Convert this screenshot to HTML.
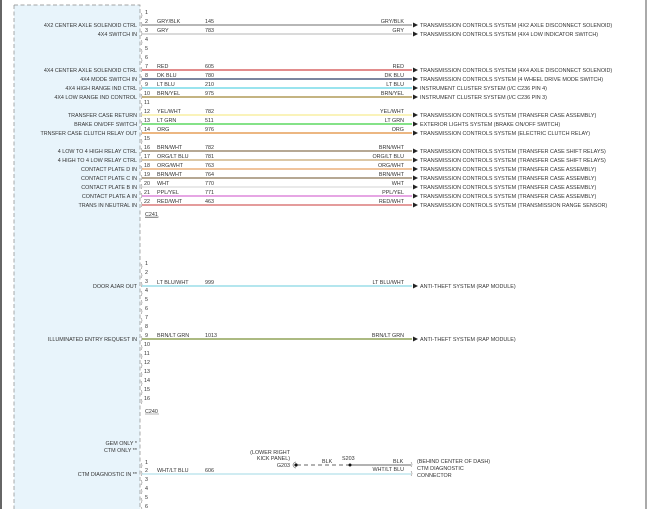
<!DOCTYPE html>
<html><head><meta charset="utf-8"><style>
html,body{margin:0;padding:0;background:#fff;width:650px;height:509px;overflow:hidden}
svg{display:block}
text{font-family:"Liberation Sans",sans-serif;font-size:5.4px;fill:#333}
.r{text-anchor:end}
</style></head><body>
<svg width="650" height="509" viewBox="0 0 650 509">
<rect x="0" y="0" width="2" height="509" fill="#666"/>
<rect x="645" y="0" width="2" height="509" fill="#aaa"/>
<rect x="14" y="5" width="126" height="504" fill="#e8f4fb"/>
<path d="M14 5H140V509" fill="none" stroke="#888" stroke-width="0.7" stroke-dasharray="4,2.5"/>
<path d="M14 5V509" fill="none" stroke="#888" stroke-width="0.7" stroke-dasharray="4,2.5"/>

<!-- C241 pins -->
<g>
<text x="145" y="14">1</text><text x="145" y="23">2</text><text x="145" y="32">3</text><text x="145" y="41">4</text>
<text x="145" y="50">5</text><text x="145" y="59">6</text><text x="145" y="68">7</text><text x="145" y="77">8</text>
<text x="145" y="86">9</text><text x="144" y="95">10</text><text x="144" y="104">11</text><text x="144" y="113">12</text>
<text x="144" y="122">13</text><text x="144" y="131">14</text><text x="144" y="140">15</text><text x="144" y="149">16</text>
<text x="144" y="158">17</text><text x="144" y="167">18</text><text x="144" y="176">19</text><text x="144" y="185">20</text>
<text x="144" y="194">21</text><text x="144" y="203">22</text>
</g>
<g fill="none" stroke="#666" stroke-width="0.5">
<path d="M141 13q2 2.5 0 5M141 22q2 2.5 0 5M141 31q2 2.5 0 5M141 40q2 2.5 0 5M141 49q2 2.5 0 5M141 58q2 2.5 0 5M141 67q2 2.5 0 5M141 76q2 2.5 0 5M141 85q2 2.5 0 5M141 94q2 2.5 0 5M141 103q2 2.5 0 5M141 112q2 2.5 0 5M141 121q2 2.5 0 5M141 130q2 2.5 0 5M141 139q2 2.5 0 5M141 148q2 2.5 0 5M141 157q2 2.5 0 5M141 166q2 2.5 0 5M141 175q2 2.5 0 5M141 184q2 2.5 0 5M141 193q2 2.5 0 5M141 202q2 2.5 0 5"/>
</g>
<g stroke-width="1.3">
<line x1="142" y1="25" x2="412" y2="25" stroke="#8c8c8c"/>
<line x1="142" y1="34" x2="412" y2="34" stroke="#c4c4c4"/>
<line x1="142" y1="70" x2="412" y2="70" stroke="#d04848"/>
<line x1="142" y1="79" x2="412" y2="79" stroke="#2e3d66"/>
<line x1="142" y1="88" x2="412" y2="88" stroke="#5ed4e4"/>
<line x1="142" y1="97" x2="412" y2="97" stroke="#a08838"/>
<line x1="142" y1="115" x2="412" y2="115" stroke="#f8ec90"/>
<line x1="142" y1="124" x2="412" y2="124" stroke="#3cd040"/>
<line x1="142" y1="133" x2="412" y2="133" stroke="#e08c38"/>
<line x1="142" y1="151" x2="412" y2="151" stroke="#8a7454"/>
<line x1="142" y1="160" x2="412" y2="160" stroke="#c8a870"/>
<line x1="142" y1="169" x2="412" y2="169" stroke="#e8a060"/>
<line x1="142" y1="178" x2="412" y2="178" stroke="#8a7454"/>
<line x1="142" y1="187" x2="412" y2="187" stroke="#dcdcdc"/>
<line x1="142" y1="196" x2="412" y2="196" stroke="#d870d4"/>
<line x1="142" y1="205" x2="412" y2="205" stroke="#d46060"/>
</g>
<g fill="#222">
<path d="M413 22.5l5 2.5-5 2.5z"/><path d="M413 31.5l5 2.5-5 2.5z"/><path d="M413 67.5l5 2.5-5 2.5z"/><path d="M413 76.5l5 2.5-5 2.5z"/>
<path d="M413 85.5l5 2.5-5 2.5z"/><path d="M413 94.5l5 2.5-5 2.5z"/><path d="M413 112.5l5 2.5-5 2.5z"/><path d="M413 121.5l5 2.5-5 2.5z"/>
<path d="M413 130.5l5 2.5-5 2.5z"/><path d="M413 148.5l5 2.5-5 2.5z"/><path d="M413 157.5l5 2.5-5 2.5z"/><path d="M413 166.5l5 2.5-5 2.5z"/>
<path d="M413 175.5l5 2.5-5 2.5z"/><path d="M413 184.5l5 2.5-5 2.5z"/><path d="M413 193.5l5 2.5-5 2.5z"/><path d="M413 202.5l5 2.5-5 2.5z"/>
<path d="M413 283.5l5 2.5-5 2.5z"/><path d="M413 336.5l5 2.5-5 2.5z"/>
</g>
<!-- wire colors & numbers -->
<text x="157" y="23">GRY/BLK</text><text x="205" y="23">145</text><text class="r" x="404" y="23">GRY/BLK</text>
<text x="157" y="32">GRY</text><text x="205" y="32">783</text><text class="r" x="404" y="32">GRY</text>
<text x="157" y="68">RED</text><text x="205" y="68">605</text><text class="r" x="404" y="68">RED</text>
<text x="157" y="77">DK BLU</text><text x="205" y="77">780</text><text class="r" x="404" y="77">DK BLU</text>
<text x="157" y="86">LT BLU</text><text x="205" y="86">210</text><text class="r" x="404" y="86">LT BLU</text>
<text x="157" y="95">BRN/YEL</text><text x="205" y="95">975</text><text class="r" x="404" y="95">BRN/YEL</text>
<text x="157" y="113">YEL/WHT</text><text x="205" y="113">782</text><text class="r" x="404" y="113">YEL/WHT</text>
<text x="157" y="122">LT GRN</text><text x="205" y="122">511</text><text class="r" x="404" y="122">LT GRN</text>
<text x="157" y="131">ORG</text><text x="205" y="131">976</text><text class="r" x="404" y="131">ORG</text>
<text x="157" y="149">BRN/WHT</text><text x="205" y="149">782</text><text class="r" x="404" y="149">BRN/WHT</text>
<text x="157" y="158">ORG/LT BLU</text><text x="205" y="158">781</text><text class="r" x="404" y="158">ORG/LT BLU</text>
<text x="157" y="167">ORG/WHT</text><text x="205" y="167">763</text><text class="r" x="404" y="167">ORG/WHT</text>
<text x="157" y="176">BRN/WHT</text><text x="205" y="176">764</text><text class="r" x="404" y="176">BRN/WHT</text>
<text x="157" y="185">WHT</text><text x="205" y="185">770</text><text class="r" x="404" y="185">WHT</text>
<text x="157" y="194">PPL/YEL</text><text x="205" y="194">771</text><text class="r" x="404" y="194">PPL/YEL</text>
<text x="157" y="203">RED/WHT</text><text x="205" y="203">463</text><text class="r" x="404" y="203">RED/WHT</text>
<!-- left labels -->
<text class="r" x="137" y="27">4X2 CENTER AXLE SOLENOID CTRL</text>
<text class="r" x="137" y="36">4X4 SWITCH IN</text>
<text class="r" x="137" y="72">4X4 CENTER AXLE SOLENOID CTRL</text>
<text class="r" x="137" y="81">4X4 MODE SWITCH IN</text>
<text class="r" x="137" y="90">4X4 HIGH RANGE IND CTRL</text>
<text class="r" x="137" y="99">4X4 LOW RANGE IND CONTROL</text>
<text class="r" x="137" y="117">TRANSFER CASE RETURN</text>
<text class="r" x="137" y="126">BRAKE ON/OFF SWITCH</text>
<text class="r" x="137" y="135">TRNSFER CASE CLUTCH RELAY OUT</text>
<text class="r" x="137" y="153">4 LOW TO 4 HIGH RELAY CTRL</text>
<text class="r" x="137" y="162">4 HIGH TO 4 LOW RELAY CTRL</text>
<text class="r" x="137" y="171">CONTACT PLATE D IN</text>
<text class="r" x="137" y="180">CONTACT PLATE C IN</text>
<text class="r" x="137" y="189">CONTACT PLATE B IN</text>
<text class="r" x="137" y="198">CONTACT PLATE A IN</text>
<text class="r" x="137" y="207">TRANS IN NEUTRAL IN</text>
<!-- destinations -->
<text x="420" y="27">TRANSMISSION CONTROLS SYSTEM (4X2 AXLE DISCONNECT SOLENOID)</text>
<text x="420" y="36">TRANSMISSION CONTROLS SYSTEM (4X4 LOW INDICATOR SWITCH)</text>
<text x="420" y="72">TRANSMISSION CONTROLS SYSTEM (4X4 AXLE DISCONNECT SOLENOID)</text>
<text x="420" y="81">TRANSMISSION CONTROLS SYSTEM (4 WHEEL DRIVE MODE SWITCH)</text>
<text x="420" y="90">INSTRUMENT CLUSTER SYSTEM (I/C C236 PIN 4)</text>
<text x="420" y="99">INSTRUMENT CLUSTER SYSTEM (I/C C236 PIN 3)</text>
<text x="420" y="117">TRANSMISSION CONTROLS SYSTEM (TRANSFER CASE ASSEMBLY)</text>
<text x="420" y="126">EXTERIOR LIGHTS SYSTEM (BRAKE ON/OFF SWITCH)</text>
<text x="420" y="135">TRANSMISSION CONTROLS SYSTEM (ELECTRIC CLUTCH RELAY)</text>
<text x="420" y="153">TRANSMISSION CONTROLS SYSTEM (TRANSFER CASE SHIFT RELAYS)</text>
<text x="420" y="162">TRANSMISSION CONTROLS SYSTEM (TRANSFER CASE SHIFT RELAYS)</text>
<text x="420" y="171">TRANSMISSION CONTROLS SYSTEM (TRANSFER CASE ASSEMBLY)</text>
<text x="420" y="180">TRANSMISSION CONTROLS SYSTEM (TRANSFER CASE ASSEMBLY)</text>
<text x="420" y="189">TRANSMISSION CONTROLS SYSTEM (TRANSFER CASE ASSEMBLY)</text>
<text x="420" y="198">TRANSMISSION CONTROLS SYSTEM (TRANSFER CASE ASSEMBLY)</text>
<text x="420" y="207">TRANSMISSION CONTROLS SYSTEM (TRANSMISSION RANGE SENSOR)</text>
<text x="145" y="216" text-decoration="underline">C241</text>
<line x1="145" y1="217" x2="159" y2="217" stroke="#444" stroke-width="0.4"/>

<!-- C240 -->
<g>
<text x="145" y="265">1</text><text x="145" y="274">2</text><text x="145" y="283">3</text><text x="145" y="292">4</text>
<text x="145" y="301">5</text><text x="145" y="310">6</text><text x="145" y="319">7</text><text x="145" y="328">8</text>
<text x="145" y="337">9</text><text x="144" y="346">10</text><text x="144" y="355">11</text><text x="144" y="364">12</text>
<text x="144" y="373">13</text><text x="144" y="382">14</text><text x="144" y="391">15</text><text x="144" y="400">16</text>
</g>
<path fill="none" stroke="#666" stroke-width="0.5" d="M141 264q2 2.5 0 5M141 273q2 2.5 0 5M141 282q2 2.5 0 5M141 291q2 2.5 0 5M141 300q2 2.5 0 5M141 309q2 2.5 0 5M141 318q2 2.5 0 5M141 327q2 2.5 0 5M141 336q2 2.5 0 5M141 345q2 2.5 0 5M141 354q2 2.5 0 5M141 363q2 2.5 0 5M141 372q2 2.5 0 5M141 381q2 2.5 0 5M141 390q2 2.5 0 5M141 399q2 2.5 0 5"/>
<line x1="142" y1="286" x2="412" y2="286" stroke="#88d8e4" stroke-width="1.3"/>
<line x1="142" y1="339" x2="412" y2="339" stroke="#7a9038" stroke-width="1.3"/>
<text x="157" y="284">LT BLU/WHT</text><text x="205" y="284">999</text><text class="r" x="404" y="284">LT BLU/WHT</text>
<text x="157" y="337">BRN/LT GRN</text><text x="205" y="337">1013</text><text class="r" x="404" y="337">BRN/LT GRN</text>
<text class="r" x="137" y="288">DOOR AJAR OUT</text>
<text class="r" x="137" y="341">ILLUMINATED ENTRY REQUEST IN</text>
<text x="420" y="288">ANTI-THEFT SYSTEM (RAP MODULE)</text>
<text x="420" y="341">ANTI-THEFT SYSTEM (RAP MODULE)</text>
<text x="145" y="413">C240</text>
<line x1="145" y1="414" x2="159" y2="414" stroke="#444" stroke-width="0.4"/>

<!-- bottom -->
<text class="r" x="137" y="445">GEM ONLY *</text>
<text class="r" x="137" y="452">CTM ONLY **</text>
<text class="r" x="137" y="476">CTM DIAGNOSTIC IN  **</text>
<text x="145" y="464">1</text><text x="145" y="472">2</text><text x="145" y="481">3</text><text x="145" y="490">4</text><text x="145" y="499">5</text><text x="145" y="508">6</text>
<path fill="none" stroke="#666" stroke-width="0.5" d="M141 463q2 2.5 0 5M141 471q2 2.5 0 5M141 480q2 2.5 0 5M141 489q2 2.5 0 5M141 498q2 2.5 0 5M141 507q2 2.5 0 5M411 462q2 2.5 0 5M411 471q2 2.5 0 5"/>
<line x1="142" y1="474" x2="411" y2="474" stroke="#a0d8e4" stroke-width="1.1"/>
<text x="157" y="472">WHT/LT BLU</text><text x="205" y="472">606</text><text class="r" x="404" y="471">WHT/LT BLU</text>
<line x1="297" y1="465" x2="350" y2="465" stroke="#333" stroke-width="0.8" stroke-dasharray="4,3"/>
<line x1="350" y1="465" x2="411" y2="465" stroke="#333" stroke-width="0.8"/>
<circle cx="296" cy="465" r="1.6" fill="#111"/>
<path d="M293 465a3 3 0 0 1 3 -3M293 465a3 3 0 0 0 3 3" fill="none" stroke="#333" stroke-width="0.5"/>
<circle cx="350" cy="465" r="1.5" fill="#111"/>
<text class="r" x="290" y="454">(LOWER RIGHT</text>
<text class="r" x="290" y="460">KICK PANEL)</text>
<text class="r" x="290" y="467">G203</text>
<text x="322" y="463">BLK</text>
<text x="342" y="460">S203</text>
<text x="393" y="463">BLK</text>
<text x="417" y="463">(BEHIND CENTER OF DASH)</text>
<text x="417" y="470">CTM DIAGNOSTIC</text>
<text x="417" y="477">CONNECTOR</text>
</svg>
</body></html>
